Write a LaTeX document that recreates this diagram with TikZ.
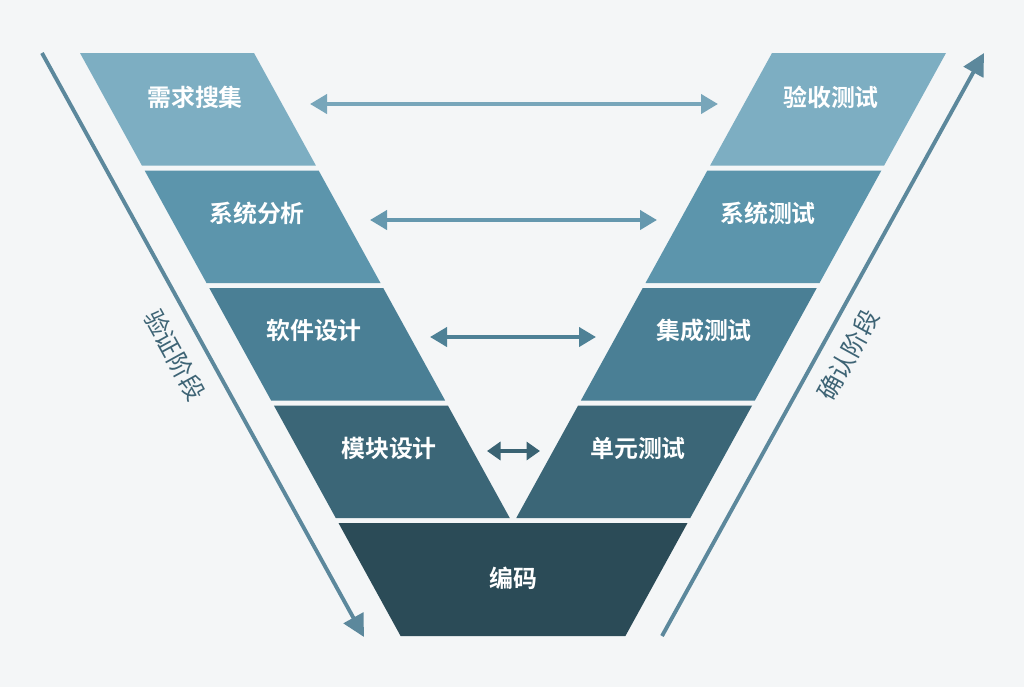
\documentclass[tikz,border=0pt]{standalone}
\usepackage{fontspec}
\setmainfont{Noto Sans CJK SC}[BoldFont=Noto Sans CJK SC Bold]
\usetikzlibrary{arrows.meta}
\definecolor{bg}{HTML}{F4F6F7}
\definecolor{bA}{HTML}{7DAEC2}
\definecolor{bB}{HTML}{5C95AC}
\definecolor{bC}{HTML}{4A7F95}
\definecolor{bD}{HTML}{3B6677}
\definecolor{bE}{HTML}{2B4B57}
\definecolor{arA}{HTML}{78A6BA}
\definecolor{arB}{HTML}{6598AE}
\definecolor{arC}{HTML}{4E8196}
\definecolor{arD}{HTML}{3A6373}
\definecolor{side}{HTML}{5C889C}
\definecolor{sidetext}{HTML}{3E6475}
\tikzset{
  lbl/.style={text=white, font=\fontsize{13.6}{16}\selectfont\bfseries, inner sep=0pt},
  sidelbl/.style={text=sidetext, font=\fontsize{14}{16}\selectfont, inner sep=0pt},
  harrow/.style={line width=2.3pt, {Triangle[length=3.4mm,width=3.8mm]}-{Triangle[length=3.4mm,width=3.8mm]}},
  longarrow/.style={draw=side, line width=2.2pt, -{Triangle[length=4.4mm,width=4.4mm]}},
}
\begin{document}
\begin{tikzpicture}[x=0.02cm,y=-0.02cm]
\useasboundingbox[fill=bg] (0,0) rectangle (1024,687);
% left and right bands
\foreach \i/\col in {0/bA,1/bB,2/bC,3/bD}{
  \pgfmathsetmacro{\yt}{53+117.5*\i}
  \pgfmathsetmacro{\yb}{\yt+112.5}
  \pgfmathsetmacro{\xot}{80+0.55*(\yt-53)}
  \pgfmathsetmacro{\xob}{80+0.55*(\yb-53)}
  \pgfmathsetmacro{\xit}{254+0.55*(\yt-53)}
  \pgfmathsetmacro{\xib}{254+0.55*(\yb-53)}
  \fill[\col] (\xot,\yt) -- (\xit,\yt) -- (\xib,\yb) -- (\xob,\yb) -- cycle;
  \fill[\col] (1026-\xot,\yt) -- (1026-\xit,\yt) -- (1026-\xib,\yb) -- (1026-\xob,\yb) -- cycle;
}
\fill[bE] (338.5,523) -- (687.5,523) -- (625.4,636) -- (400.6,636) -- cycle;
% labels
\node[lbl] (l1) at (195,97) {需求搜集};
\node[lbl] (l2) at (257,213) {系统分析};
\node[lbl] (l3) at (314,330) {软件设计};
\node[lbl] (l4) at (389,448) {模块设计};
\node[lbl] (r1) at (831,97) {验收测试};
\node[lbl] (r2) at (768,213) {系统测试};
\node[lbl] (r3) at (704,330) {集成测试};
\node[lbl] (r4) at (638,448) {单元测试};
\node[lbl] (code) at (513,578) {编码};
% horizontal arrows
\coordinate (a1l) at (310,104); \coordinate (a1r) at (718,104);
\coordinate (a2l) at (370,220); \coordinate (a2r) at (657,220);
\coordinate (a3l) at (430,337); \coordinate (a3r) at (596,337);
\coordinate (a4l) at (487,451); \coordinate (a4r) at (540,451);
\draw[harrow, arA] (a1l) -- (a1r);
\draw[harrow, arB] (a2l) -- (a2r);
\draw[harrow, arC] (a3l) -- (a3r);
\draw[arD, line width=2.6pt, {Triangle[length=2.7mm,width=3.6mm]}-{Triangle[length=2.7mm,width=3.6mm]}] (a4l) -- (a4r);
% long side arrows
\coordinate (ls) at (42,53); \coordinate (le) at (364,637);
\coordinate (rs) at (662,636); \coordinate (re) at (984,53);
\draw[longarrow] (ls) -- (le);
\draw[longarrow] (rs) -- (re);
\node[sidelbl, rotate=-61.2] (vl) at (175,355) {验证阶段};
\node[sidelbl, rotate=61.2] (vr) at (848,355) {确认阶段};
\end{tikzpicture}
\end{document}
